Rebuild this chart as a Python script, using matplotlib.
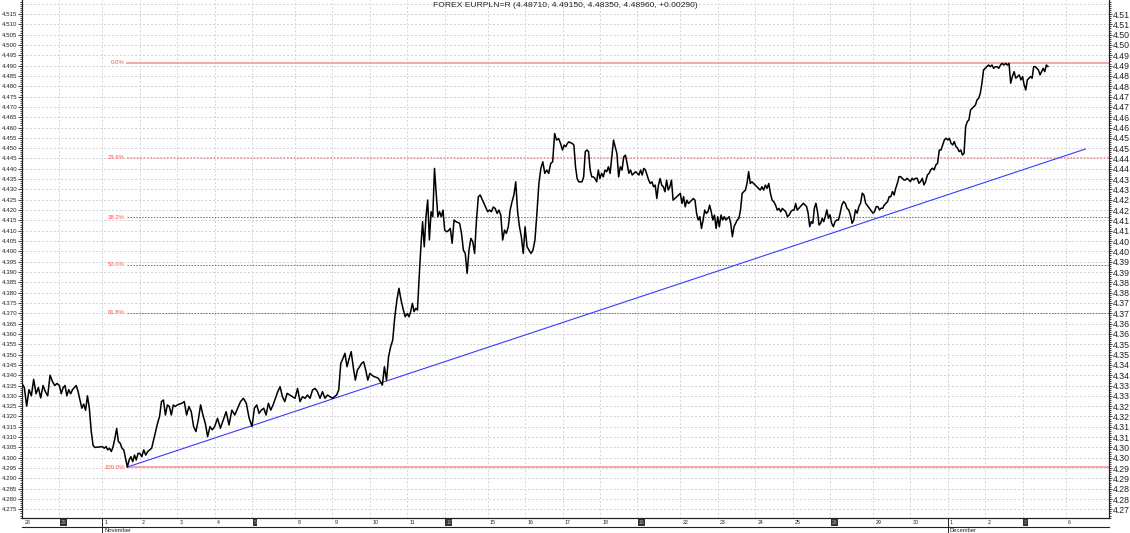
import numpy as np
import pandas as pd
import matplotlib
matplotlib.use('Agg')
import matplotlib.pyplot as plt
import matplotlib.transforms as mtransforms
from matplotlib.ticker import MultipleLocator, FixedLocator

plt.rcParams['font.family'] = ['Liberation Sans', 'DejaVu Sans']

title = 'FOREX EURPLN=R (4.48710, 4.49150, 4.48350, 4.48960, +0.00290)'

# business days shown on the axis (Oct 28 .. Dec 6)
dates = pd.bdate_range('2010-10-28', '2010-12-06')

# intraday quotes, one list per trading day
oct28 = [4.336, 4.334, 4.325, 4.333, 4.330, 4.338, 4.331, 4.334, 4.329, 4.335, 4.332, 4.330, 4.340, 4.337, 4.335, 4.336]
oct29 = [4.335, 4.331, 4.334, 4.335, 4.330, 4.333, 4.331, 4.333, 4.334, 4.335, 4.332, 4.328, 4.324, 4.326, 4.323, 4.330, 4.324, 4.313, 4.306, 4.305]
nov01 = [4.3054, 4.3046, 4.3054, 4.3038, 4.3046, 4.3030, 4.3054, 4.3094, 4.3142, 4.3078, 4.3070, 4.3046, 4.3038, 4.2997, 4.2955, 4.2989, 4.3005, 4.2981, 4.3013, 4.2989, 4.3021]
nov02 = [4.3021, 4.3005, 4.3038, 4.3013, 4.3030, 4.3038, 4.3046, 4.3086, 4.3127, 4.3167, 4.3199, 4.3272, 4.3280, 4.3207, 4.3256, 4.3248, 4.3207, 4.3256, 4.3248]
nov03 = [4.3256, 4.3260, 4.3264, 4.3272, 4.3207, 4.3248, 4.3223, 4.3151, 4.3127, 4.3183, 4.3256, 4.3207, 4.3167, 4.3102, 4.3151, 4.3135]
nov04 = [4.3151, 4.3191, 4.3143, 4.3183, 4.3223, 4.3159, 4.3231, 4.3207, 4.3240, 4.3272, 4.3288, 4.3264, 4.3191]
nov05 = [4.3151, 4.3240, 4.3256, 4.3215, 4.3231, 4.3240, 4.3207, 4.3264, 4.3231, 4.3256, 4.3288, 4.3320, 4.3344, 4.3296, 4.3272, 4.3312]
nov08 = [4.3288, 4.3336, 4.3272, 4.3296, 4.3288, 4.3304, 4.3288, 4.3328, 4.3336, 4.3320, 4.3288, 4.3320, 4.3288, 4.3304, 4.3296]
nov09 = [4.3288, 4.3296, 4.3304, 4.3328, 4.3457, 4.3480, 4.3506, 4.3441, 4.3480, 4.3514, 4.3440, 4.3376, 4.3425, 4.3440, 4.3457, 4.3465, 4.3425, 4.3376]
nov10 = [4.3409, 4.3400, 4.3393, 4.3390, 4.3385, 4.3370, 4.3352, 4.3441, 4.3376, 4.3490, 4.3538, 4.3570, 4.3683, 4.3764, 4.3821, 4.3764, 4.3720, 4.3683]
nov11 = [4.3699, 4.3683, 4.3708, 4.3748, 4.3708, 4.3724, 4.3716, 4.3877, 4.4022, 4.4144, 4.4022, 4.4168, 4.4249, 4.4055, 4.4192, 4.4168, 4.4402, 4.4281, 4.4168, 4.4192, 4.4168, 4.4200]
nov12 = [4.4103, 4.4095, 4.4100, 4.4111, 4.4039, 4.4152, 4.4144, 4.4140, 4.4136, 4.4087, 4.4006, 4.3990, 4.3893, 4.4006, 4.4063, 4.4047, 4.3990, 4.4152, 4.4265, 4.4273]
nov15 = [4.4192, 4.4200, 4.4192, 4.4215, 4.4208, 4.4184, 4.4200, 4.4176, 4.4055, 4.4103, 4.4087, 4.4119, 4.4200, 4.4240, 4.4273, 4.4337, 4.4192, 4.4119, 4.4071, 4.3990]
nov16 = [4.4119, 4.4022, 4.4006, 4.3990, 4.4006, 4.4055, 4.4184, 4.4329, 4.4402, 4.4434, 4.4378, 4.4394, 4.4378, 4.4426, 4.4434, 4.4571, 4.4539, 4.4547, 4.4523]
nov17 = [4.4491, 4.4515, 4.4507, 4.4523, 4.4531, 4.4526, 4.4523, 4.4515, 4.4410, 4.4353, 4.4337, 4.4337, 4.4337, 4.4361, 4.4483, 4.4491, 4.4483, 4.4394, 4.4361, 4.4361, 4.4353, 4.4337, 4.4394]
nov18 = [4.4353, 4.4378, 4.4361, 4.4394, 4.4386, 4.4410, 4.4378, 4.4458, 4.4539, 4.4507, 4.4474, 4.4361, 4.4410, 4.4394, 4.4458, 4.4466, 4.4426, 4.4378, 4.4394, 4.4370, 4.4378, 4.4386]
nov19 = [4.4378, 4.4370, 4.4394, 4.4370, 4.4402, 4.4394, 4.4370, 4.4345, 4.4329, 4.4337, 4.4313, 4.4321, 4.4256, 4.4321, 4.4353, 4.4321, 4.4313, 4.4289, 4.4345, 4.4297, 4.4313, 4.4345, 4.4248]
nov22 = [4.4281, 4.4232, 4.4265, 4.4216, 4.4248, 4.4232, 4.4240, 4.4248, 4.4256, 4.4248, 4.4184, 4.4152, 4.4168, 4.4111, 4.4152, 4.4200, 4.4184, 4.4192, 4.4224, 4.4192, 4.4152, 4.4176, 4.4111]
nov23 = [4.4168, 4.4119, 4.4176, 4.4152, 4.4168, 4.4152, 4.4160, 4.4168, 4.4135, 4.4071, 4.4119, 4.4135, 4.4152, 4.4160, 4.4200, 4.4281, 4.4289, 4.4297, 4.4329, 4.4386, 4.4329, 4.4337, 4.4329]
nov24 = [4.4321, 4.4313, 4.4305, 4.4297, 4.4313, 4.4297, 4.4321, 4.4305, 4.4329, 4.4281, 4.4248, 4.4240, 4.4224, 4.4200, 4.4208, 4.4192, 4.4208, 4.4200, 4.4192, 4.4168, 4.4176, 4.4192]
nov25 = [4.4200, 4.4200, 4.4232, 4.4200, 4.4208, 4.4217, 4.4225, 4.4233, 4.4225, 4.4217, 4.4185, 4.4120, 4.4144, 4.4136, 4.4209, 4.4233, 4.4193, 4.4128, 4.4136, 4.4160, 4.4144, 4.4169, 4.4201, 4.4160]
nov26 = [4.4177, 4.4136, 4.4120, 4.4144, 4.4152, 4.4152, 4.4185, 4.4225, 4.4241, 4.4233, 4.4209, 4.4201, 4.4177, 4.4136, 4.4152, 4.4201, 4.4185, 4.4217, 4.4233, 4.4282, 4.4273, 4.4233]
nov29 = [4.4185, 4.4193, 4.4217, 4.4217, 4.4201, 4.4209, 4.4209, 4.4225, 4.4233, 4.4241, 4.4265, 4.4265, 4.4290, 4.4273, 4.4306, 4.4330, 4.4362, 4.4362, 4.4354, 4.4346, 4.4346, 4.4354, 4.4346]
nov30 = [4.4338, 4.4354, 4.4346, 4.4354, 4.4354, 4.4330, 4.4338, 4.4354, 4.4322, 4.4338, 4.4370, 4.4378, 4.4395, 4.4403, 4.4395, 4.4419, 4.4427, 4.4491, 4.4491, 4.4516, 4.4540, 4.4548]
dec01 = [4.4540, 4.4548, 4.4524, 4.4516, 4.4532, 4.4508, 4.4500, 4.4483, 4.4491, 4.4467, 4.4475, 4.4605, 4.4629, 4.4637, 4.4685, 4.4693, 4.4701, 4.4709, 4.4734, 4.4742, 4.4766, 4.4815, 4.4879]
dec02 = [4.4887, 4.4895, 4.4903, 4.4895, 4.4903, 4.4887, 4.4895, 4.4895, 4.4887, 4.4903, 4.4911, 4.4903, 4.4911, 4.4903, 4.4911, 4.4815, 4.4847, 4.4871, 4.4839, 4.4847, 4.4855, 4.4831]
dec03 = [4.4847, 4.4806, 4.4782, 4.4831, 4.4839, 4.4847, 4.4839, 4.4895, 4.4895, 4.4887, 4.4879, 4.4855, 4.4871, 4.4887, 4.4871, 4.4903, 4.4896]

days = [oct28, oct29, nov01, nov02, nov03, nov04, nov05, nov08, nov09, nov10, nov11, nov12,
        nov15, nov16, nov17, nov18, nov19, nov22, nov23, nov24, nov25, nov26,
        nov29, nov30, dec01, dec02, dec03]
last_day_span = 0.72   # quotes stop part way through Dec 3

# Fibonacci retracement and trend line (drawn by the analyst)
fib_high = 4.4915
fib_low = 4.2955
fib_levels = [0.0, 0.236, 0.382, 0.5, 0.618, 1.0]
fib_names = ['0.0%', '23.6%', '38.2%', '50.0%', '61.8%', '100.0%']
trend_end = (28.43, 4.4496)

# price ticks on both sides
price_ticks = np.round(np.arange(4.275, 4.5151, 0.005), 3)

weekend_gap = 0.15

# x position of each business day, weekends squeezed to a small gap
starts = []
pos = 0.0
for k, d in enumerate(dates):
    if k > 0 and d.weekday() == 0:
        pos += weekend_gap
    starts.append(pos)
    pos += 1.0

xs, ys = [], []
for k, vals in enumerate(days):
    span = last_day_span if k == len(days) - 1 else 1.0
    n = len(vals)
    xs.extend(starts[k] + np.arange(n) / n * span)
    ys.extend(vals)
xs = np.array(xs)
ys = np.array(ys)
low_x = xs[np.argmin(ys)]

fig = plt.figure(figsize=(11.3, 5.33), dpi=100)
ax = fig.add_axes([22 / 1130, 15 / 533, 1087 / 1130, 518 / 533])
xmax = 29.06
ax.set_xlim(0, xmax)
ax.set_ylim(4.2708, 4.5218)

# grid
for v in np.arange(4.275, 4.5201, 0.005):
    ax.axhline(v, color='#cfcfcf', lw=0.7, ls=(0, (2, 2)), zorder=0)
for s in starts:
    ax.axvline(s, color='#d4d4d4', lw=0.7, ls=(0, (2, 2)), zorder=0)

# fibonacci levels
for lev, name in zip(fib_levels, fib_names):
    price = fib_high - lev * (fib_high - fib_low)
    if lev in (0.0, 1.0):
        ax.plot([low_x, xmax], [price, price], color='#f4a0a0', lw=1.3, zorder=1)
    elif lev == 0.236:
        ax.plot([low_x, xmax], [price, price], color='#f29090', lw=1.2, ls=(0, (1, 1)), zorder=1)
    else:
        ax.plot([low_x, xmax], [price, price], color='#dd3b3b', lw=0.7, ls=(0, (1.5, 1.5)), zorder=1)
    ax.text(low_x - 0.07, price, name, color='#ff4f4f', fontsize=4.3, ha='right', va='center')

# trend line
ax.plot([low_x, trend_end[0]], [fib_low, trend_end[1]], color='#3a3aff', lw=0.8, zorder=2)

# price
ax.plot(xs, ys, color='black', lw=1.1, zorder=3)

ax.text(0.5, 0.996, title, transform=ax.transAxes, ha='center', va='top',
        fontsize=6.1, color='#222222')

# y axes
ax.yaxis.set_major_locator(FixedLocator(price_ticks))
ax.yaxis.set_minor_locator(MultipleLocator(0.001))
ax.yaxis.set_major_formatter(plt.FuncFormatter(lambda v, p: f'{v:.3f}'))
ax.tick_params(axis='y', which='major', length=3, width=0.6, labelsize=4.4, pad=0.5, colors='#222222')
ax.tick_params(axis='y', which='minor', length=1.5, width=0.5)
ax.set_xticks([])

ax2 = ax.twinx()
ax2.set_ylim(ax.get_ylim())
ax2.yaxis.set_major_locator(FixedLocator(price_ticks))
ax2.yaxis.set_minor_locator(MultipleLocator(0.001))
ax2.yaxis.set_major_formatter(plt.FuncFormatter(lambda v, p: f'{np.floor(v * 100 + 1e-6) / 100:.2f}'))
ax2.tick_params(axis='y', which='major', length=2.5, width=0.6, labelsize=6.3, pad=0.3, colors='#222222')
ax2.tick_params(axis='y', which='minor', length=1.2, width=0.5)

for a in (ax, ax2):
    a.spines['top'].set_visible(False)
    for sp in ('left', 'right', 'bottom'):
        a.spines[sp].set_linewidth(0.8)
        a.spines[sp].set_color('#222222')

# date band under the axis
trans = mtransforms.blended_transform_factory(ax.transData, ax.transAxes)
for k, d in enumerate(dates):
    if d.weekday() == 4:
        ax.text(starts[k] + 0.04, -0.0085, str(d.day), transform=trans, fontsize=3.6,
                ha='left', va='center', color='#aaaaaa', clip_on=False,
                bbox=dict(boxstyle='square,pad=0.15', fc='#333333', ec='none'))
    else:
        ax.text(starts[k] + 0.06, -0.0085, str(d.day), transform=trans, fontsize=3.8,
                ha='left', va='center', color='#222222', clip_on=False)
    if d.day == 1:
        ax.plot([starts[k], starts[k]], [0, -0.03], transform=trans, color='#222222',
                lw=0.7, clip_on=False)
        ax.text(starts[k] + 0.05, -0.0235, d.strftime('%B'), transform=trans, fontsize=4.2,
                ha='left', va='center', color='#222222', clip_on=False)
ax.plot([0, xmax], [-0.0174, -0.0174], transform=trans, color='#222222', lw=0.8, clip_on=False)

fig.savefig('out.png', dpi=100, facecolor='white')
